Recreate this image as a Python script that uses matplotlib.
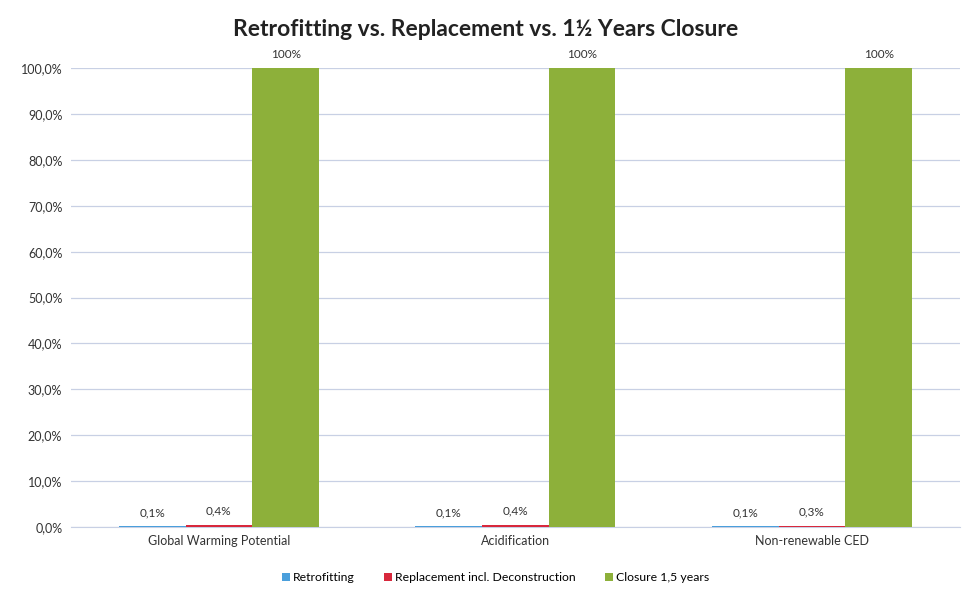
import numpy as np
import matplotlib.pyplot as plt

categories = ['Global Warming Potential', 'Acidification', 'Non-renewable CED']
series = ['Retrofitting', 'Replacement incl. Deconstruction', 'Closure 1,5 years']
retrofitting = [0.1, 0.1, 0.1]
replacement = [0.4, 0.4, 0.3]
closure = [100, 100, 100]
labels_retro = ['0,1%', '0,1%', '0,1%']
labels_repl = ['0,4%', '0,4%', '0,3%']
labels_clos = ['100%', '100%', '100%']
yticks = [0, 10, 20, 30, 40, 50, 60, 70, 80, 90, 100]

plt.rcParams['font.family'] = ['Lato', 'DejaVu Sans']

fig = plt.figure(figsize=(9.67, 5.94), dpi=100)
fig.patch.set_facecolor('white')
ax = fig.add_axes([0.073, 0.113, 0.920, 0.772])

x = np.arange(len(categories))
w = 0.225
colors = ['#4A9FDC', '#D8283C', '#8DB03A']
data = [retrofitting, replacement, closure]
labs = [labels_retro, labels_repl, labels_clos]
for i, (vals, c, name, lb) in enumerate(zip(data, colors, series, labs)):
    bars = ax.bar(x + (i - 1) * w, vals, w, color=c, label=name, zorder=3)
    for b, t in zip(bars, lb):
        ax.text(b.get_x() + b.get_width() / 2, b.get_height() + 1.8, t,
                ha='center', va='bottom', fontsize=8.5, color='#333333')

ax.set_xlim(-0.5, 2.5)
ax.set_ylim(0, 100)
ax.set_yticks(yticks)
ax.set_yticklabels(['%d,0%%' % v for v in yticks], fontsize=9, color='#333333')
ax.set_xticks(x)
ax.set_xticklabels(categories, fontsize=9, color='#333333')
ax.tick_params(length=0, pad=6)
ax.yaxis.grid(True, color='#C8D0E4', linewidth=0.9, zorder=0)
for s in ['top', 'right', 'left']:
    ax.spines[s].set_visible(False)
ax.spines['bottom'].set_color('#C8D0E4')

fig.suptitle('Retrofitting vs. Replacement vs. 1\u00bd Years Closure',
             x=0.502, y=0.968, fontsize=16.5, fontweight='bold', color='#222222')
ax.legend(loc='upper center', bbox_to_anchor=(0.478, -0.075), ncol=3,
          frameon=False, fontsize=8.8, handlelength=0.6, handleheight=0.6,
          handletextpad=0.3, columnspacing=2.4)

fig.savefig('out.png', dpi=100)
